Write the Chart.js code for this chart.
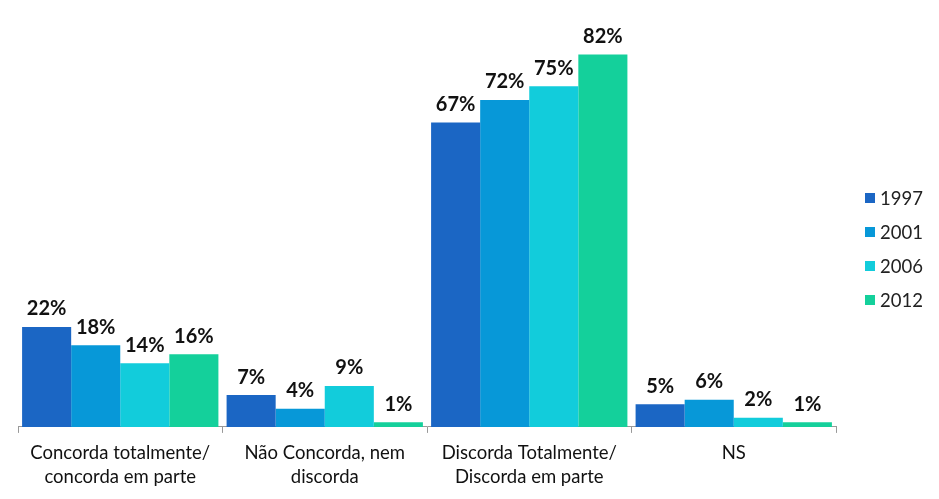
<!DOCTYPE html>
<html>
<head>
<meta charset="utf-8">
<script src="https://cdn.jsdelivr.net/npm/chart.js@4/dist/chart.umd.min.js"></script>
<style>
  html, body { margin: 0; padding: 0; background: #fff; }
  #wrap { width: 939px; height: 499px; }
</style>
</head>
<body>
<div id="wrap"><canvas id="chart"></canvas></div>
<script>
// ---------- Data ----------
const categories = [
    ["Concorda totalmente/", "concorda em parte"],
    ["Não Concorda, nem", "discorda"],
    ["Discorda Totalmente/", "Discorda em parte"],
    ["NS"]
];
const seriesNames = ["1997", "2001", "2006", "2012"];
const values1997 = [22, 7, 67, 5];
const values2001 = [18, 4, 72, 6];
const values2006 = [14, 9, 75, 2];
const values2012 = [16, 1, 82, 1];
const seriesColors = ["#1B66C4", "#0798D8", "#12CCDB", "#14D09B"];

const FONT = "Lato, 'Open Sans', sans-serif";

// ---------- Value labels ----------
const valueLabels = {
    id: "valueLabels",
    afterDatasetsDraw(chart) {
        const ctx = chart.ctx;
        ctx.save();
        ctx.font = "bold 20px " + FONT;
        ctx.fillStyle = "#111";
        ctx.textAlign = "center";
        ctx.textBaseline = "bottom";
        chart.data.datasets.forEach((ds, i) => {
            chart.getDatasetMeta(i).data.forEach((bar, j) => {
                ctx.fillText(ds.data[j] + "%", bar.x, bar.y - 8);
            });
        });
        ctx.restore();
    }
};

// ---------- Legend on the right ----------
const sideLegend = {
    id: "sideLegend",
    afterDraw(chart) {
        const ctx = chart.ctx;
        ctx.save();
        ctx.font = "18.5px " + FONT;
        ctx.textBaseline = "middle";
        ctx.textAlign = "left";
        chart.data.datasets.forEach((ds, i) => {
            const y = 198 + i * 34;
            ctx.fillStyle = ds.backgroundColor;
            ctx.fillRect(865, y - 5, 10, 10);
            ctx.fillStyle = "#222";
            ctx.fillText(ds.label, 880, y + 1);
        });
        ctx.restore();
    }
};

const allValues = [values1997, values2001, values2006, values2012];

new Chart(document.getElementById("chart"), {
    type: "bar",
    data: {
        labels: categories,
        datasets: seriesNames.map((name, i) => ({
            label: name,
            data: allValues[i],
            backgroundColor: seriesColors[i],
            barPercentage: 1,
            categoryPercentage: 0.96
        }))
    },
    options: {
        responsive: true,
        maintainAspectRatio: false,
        animation: false,
        layout: { padding: { top: 0, left: 18, right: 103, bottom: 2 } },
        plugins: {
            tooltip: { enabled: false },
            legend: { display: false }
        },
        scales: {
            x: {
                grid: {
                    drawOnChartArea: false,
                    tickLength: 6,
                    color: "#999"
                },
                border: { color: "#999" },
                ticks: {
                    font: { family: FONT, size: 18.5, lineHeight: 1.3 },
                    color: "#111",
                    padding: 8,
                    maxRotation: 0
                }
            },
            y: {
                display: false,
                min: 0,
                max: 94
            }
        }
    },
    plugins: [valueLabels, sideLegend]
});
</script>
</body>
</html>
